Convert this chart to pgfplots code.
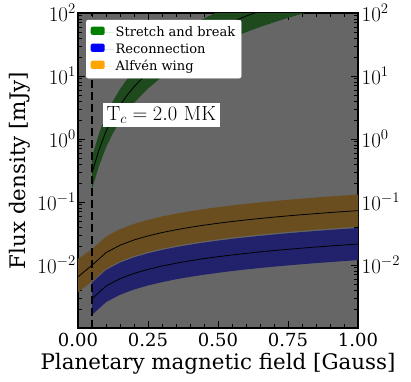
\RequirePackage{fix-cm}
\documentclass[border=0pt]{standalone}
\usepackage[no-math]{fontspec}
\setmainfont{DejaVu Serif}
\usepackage{pgfplots}
\pgfplotsset{compat=1.18}
\usepgfplotslibrary{fillbetween}
\usepackage{pgfplotstable}
\definecolor{bggray}{RGB}{102,102,102}
\definecolor{bandgreen}{RGB}{30,74,30}
\definecolor{bandorange}{RGB}{106,78,32}
\definecolor{bandblue}{RGB}{34,34,108}
\definecolor{legorange}{RGB}{255,165,0}
\newcommand{\legfont}{\fontsize{13}{15}\selectfont\strut}

% x, lower edge, centre, upper edge
\pgfplotstableread{
x     lo       mid      hi
0.00  0.00370  0.00650  0.01250
0.05  0.00551  0.00991  0.01784
0.10  0.00873  0.01572  0.02830
0.15  0.01145  0.02061  0.03710
0.20  0.01387  0.02497  0.04495
0.25  0.01609  0.02897  0.05215
0.30  0.01817  0.03271  0.05888
0.35  0.02014  0.03625  0.06525
0.40  0.02202  0.03963  0.07133
0.45  0.02382  0.04287  0.07717
0.50  0.02555  0.04599  0.08278
0.55  0.02722  0.04900  0.08820
0.60  0.02885  0.05193  0.09347
0.65  0.03043  0.05477  0.09859
0.70  0.03197  0.05755  0.10359
0.75  0.03348  0.06026  0.10847
0.80  0.03495  0.06291  0.11324
0.85  0.03639  0.06550  0.11790
0.90  0.03781  0.06805  0.12249
0.95  0.03919  0.07055  0.12699
1.00  0.04056  0.07300  0.13140
}\alfven

\pgfplotstableread{
x     lo        mid       hi
0.05  0.001621  0.002918  0.005252
0.10  0.002573  0.004631  0.008336
0.15  0.003372  0.006069  0.010925
0.20  0.004085  0.007353  0.013235
0.25  0.004741  0.008533  0.015360
0.30  0.005352  0.009634  0.017341
0.35  0.005932  0.010677  0.019219
0.40  0.006485  0.011672  0.021010
0.45  0.007014  0.012625  0.022725
0.50  0.007525  0.013545  0.024381
0.55  0.008018  0.014433  0.025979
0.60  0.008497  0.015295  0.027531
0.65  0.008962  0.016131  0.029036
0.70  0.009417  0.016951  0.030511
0.75  0.009860  0.017748  0.031947
0.80  0.010294  0.018529  0.033352
0.85  0.010718  0.019292  0.034726
0.90  0.011134  0.020042  0.036076
0.95  0.011543  0.020778  0.037400
1.00  0.011944  0.021500  0.038700
}\reconn

\pgfplotstableread{
x      lo      mid     hi
0.050  0.161   0.290   0.522
0.075  0.374   0.673   1.211
0.100  0.733   1.320   2.376
0.125  1.244   2.240   4.032
0.150  1.906   3.430   6.174
0.175  2.739   4.930   8.874
0.200  3.750   6.750   12.15
0.250  6.333   11.40   20.52
0.300  9.722   17.50   31.50
0.350  13.94   25.10   45.18
0.400  19.11   34.40   61.92
0.450  25.22   45.40   81.72
0.500  32.28   58.10   104.6
0.550  40.39   72.70   130.9
0.600  49.56   89.20   160.6
0.650  59.78   107.6   193.7
0.700  71.17   128.1   230.6
0.750  83.72   150.7   271.3
0.800  97.44   175.4   315.7
0.850  112.3   202.2   364.0
0.900  128.4   231.2   416.2
}\stretch

\pgfplotsset{
  fluxaxis/.style={
    scale only axis, width=280pt, height=315pt,
    xmin=0, xmax=1, ymin=1e-3, ymax=1e2,
    ytick={1e-2,1e-1,1,1e1,1e2},
    minor ytick={0.002,0.003,0.004,0.005,0.006,0.007,0.008,0.009,
      0.02,0.03,0.04,0.05,0.06,0.07,0.08,0.09,
      0.2,0.3,0.4,0.5,0.6,0.7,0.8,0.9,
      2,3,4,5,6,7,8,9,20,30,40,50,60,70,80,90},
    yticklabel style={font=\fontsize{21}{23}\selectfont, inner sep=2pt},
  },
}

\begin{document}
\begin{tikzpicture}
\begin{axis}[
  ymode=log,
  fluxaxis,
  axis background/.style={fill=bggray},
  axis line style={line width=2.4pt},
  tick align=inside,
  xtick pos=both, ytick pos=both,
  yticklabel pos=left,
  xtick={0,0.25,0.5,0.75,1},
  minor x tick num=4,
  xticklabels={0.00,0.25,0.50,0.75,1.00},
  major tick length=7pt, minor tick length=4pt,
  every tick/.style={black, line width=0.8pt},
  xticklabel style={font=\fontsize{18}{20}\selectfont, inner sep=2pt, yshift=-2.8pt},
  xlabel={Planetary magnetic field [Gauss]},
  ylabel={Flux density [mJy]},
  label style={font=\fontsize{21.4}{24}\selectfont, inner sep=2pt},
  xlabel style={yshift=-2.5pt},
  ylabel style={yshift=3pt},
  legend cell align=left,
  legend image code/.code={\fill[#1, draw=none] (0pt,-2.8pt) rectangle (14pt,5.5pt);
    \path[draw=none] (0pt,0pt) -- (23.5pt,0pt);},
  legend style={at={(0.0286,0.978)}, anchor=north west, fill=white,
    draw=white, rounded corners=2pt,
    nodes={inner sep=1.5pt},
    row sep=2pt, inner sep=4.5pt},
]
\addlegendimage{fill=green!50!black}
\addlegendentry{\legfont Stretch and break}
\addlegendimage{fill=blue}
\addlegendentry{\legfont Reconnection}
\addlegendimage{fill=legorange}
\addlegendentry{\legfont Alfvén wing}

\addplot[draw=none, name path=alo, forget plot] table[x=x,y=lo] {\alfven};
\addplot[draw=none, name path=ahi, forget plot] table[x=x,y=hi] {\alfven};
\addplot[bandorange, forget plot] fill between[of=alo and ahi];
\addplot[draw=none, name path=rlo, forget plot] table[x=x,y=lo] {\reconn};
\addplot[draw=none, name path=rhi, forget plot] table[x=x,y=hi] {\reconn};
\addplot[bandblue, forget plot] fill between[of=rlo and rhi];
\addplot[draw=none, name path=slo, forget plot] table[x=x,y=lo] {\stretch};
\addplot[draw=none, name path=shi, forget plot] table[x=x,y=hi] {\stretch};
\addplot[bandgreen, forget plot] fill between[of=slo and shi];

\addplot[black, line width=0.8pt, forget plot] table[x=x,y=mid] {\alfven};
\addplot[black, line width=0.8pt, forget plot] table[x=x,y=mid] {\reconn};
\addplot[black, line width=0.8pt, forget plot] table[x=x,y=mid] {\stretch};
\addplot[black, line width=2pt, dash pattern=on 8pt off 4pt, forget plot]
  coordinates {(0.05,1e-3) (0.05,1e2)};

\node[fill=white, inner sep=3.5pt, anchor=west, font=\fontsize{20.5}{22}\selectfont]
  at (axis cs:0.089,2.4) {$\mathrm{T}_c = 2.0\ \mathrm{MK}$};
\end{axis}
\begin{axis}[
  ymode=log,
  fluxaxis,
  axis x line=none,
  axis y line*=right,
  y axis line style={draw=none},
  major tick length=0pt, minor tick length=0pt,
  yticklabel style={xshift=1.5pt},
]
\addplot[draw=none] coordinates {(0,1e-3) (1,1e2)};
\end{axis}
\pgfresetboundingbox
\path[use as bounding box] (-78pt,-53pt) rectangle (333pt,328pt);
\end{tikzpicture}
\end{document}
